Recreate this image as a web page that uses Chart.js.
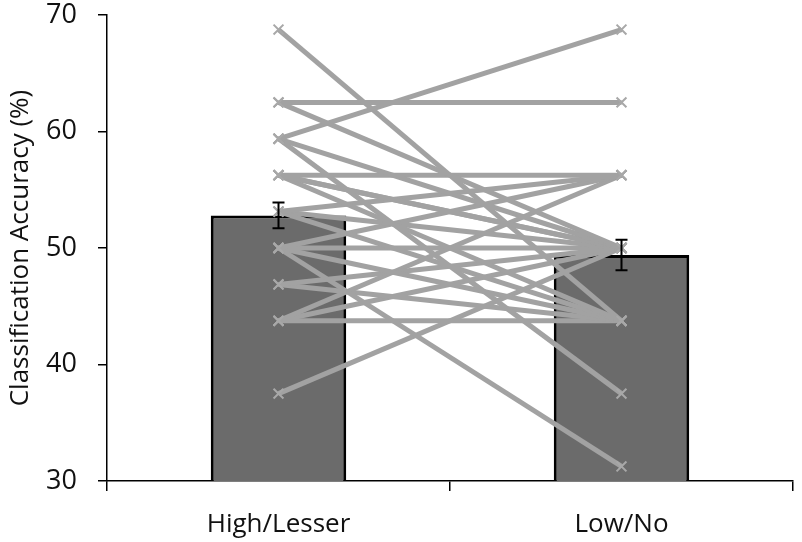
<!DOCTYPE html>
<html>
<head>
<meta charset="utf-8">
<script src="https://cdn.jsdelivr.net/npm/chart.js@4"></script>
<style>
  body { margin: 0; background: #fff; }
  #wrap { width: 802px; height: 542px; }
</style>
</head>
<body>
<div id="wrap"><canvas id="myChart" width="802" height="542"></canvas></div>
<script>
const categories = ['High/Lesser', 'Low/No'];
const barMeans = [52.8, 49.4];
const barErrors = [1.1, 1.3];
// one entry per participant: accuracy in each condition
const highValues = [68.75, 62.5, 62.5, 59.375, 59.375, 59.375, 56.25, 56.25, 56.25, 56.25, 53.125, 53.125, 53.125, 50, 50, 50, 50, 46.875, 46.875, 43.75, 43.75, 43.75, 37.5];
const lowValues  = [43.75, 62.5, 50, 68.75, 37.5, 50, 56.25, 50, 43.75, 50, 56.25, 43.75, 50, 31.25, 56.25, 50, 43.75, 50, 43.75, 43.75, 56.25, 50, 50];
const yTicks = [30, 40, 50, 60, 70];

const lineColor = '#a2a2a2';
const fontFamily = '"Open Sans", "Noto Sans", sans-serif';

const lineSets = highValues.map((v, i) => ({
  type: 'line',
  data: [v, lowValues[i]],
  borderColor: lineColor,
  borderWidth: 5,
  pointStyle: 'crossRot',
  pointRadius: 7,
  pointBorderColor: '#a8a8a8',
  pointBorderWidth: 2,
  fill: false,
  order: 1,
}));

const errorBars = {
  id: 'errorBars',
  afterDatasetsDraw(chart) {
    const { ctx, scales } = chart;
    ctx.save();
    ctx.strokeStyle = '#000';
    ctx.lineWidth = 2;
    barMeans.forEach((m, i) => {
      const x = scales.x.getPixelForValue(i);
      const top = scales.y.getPixelForValue(m + barErrors[i]);
      const bot = scales.y.getPixelForValue(m - barErrors[i]);
      ctx.beginPath();
      ctx.moveTo(x, top); ctx.lineTo(x, bot);
      ctx.moveTo(x - 6, top); ctx.lineTo(x + 6, top);
      ctx.moveTo(x - 6, bot); ctx.lineTo(x + 6, bot);
      ctx.stroke();
    });
    ctx.restore();
  }
};

new Chart(document.getElementById('myChart'), {
  type: 'bar',
  data: {
    labels: categories,
    datasets: [
      {
        type: 'bar',
        data: barMeans,
        backgroundColor: '#6b6b6b',
        borderColor: '#000',
        borderWidth: 3,
        categoryPercentage: 1,
        barPercentage: 0.395,
        order: 2,
      },
      ...lineSets,
    ],
  },
  options: {
    responsive: false,
    animation: false,
    layout: { padding: { top: 15, right: 2, left: 1, bottom: 0 } },
    plugins: { legend: { display: false }, tooltip: { enabled: false } },
    scales: {
      x: {
        offset: true,
        afterFit: (axis) => { axis.height = 61; },
        border: { color: '#000', width: 1.5 },
        grid: { display: true, drawOnChartArea: false, drawTicks: true, tickLength: 10, color: '#000', lineWidth: 1.5, offset: true },
        ticks: { color: '#111', font: { family: fontFamily, size: 26 }, padding: 18 },
      },
      y: {
        min: 30,
        max: 70,
        afterBuildTicks: (axis) => { axis.ticks = yTicks.map(v => ({ value: v })); },
        afterFit: (axis) => { axis.width = 106; axis.paddingTop = 0; axis.paddingBottom = 0; },
        border: { color: '#000', width: 1.5 },
        grid: { display: true, drawOnChartArea: false, drawTicks: true, tickLength: 9, color: '#000', lineWidth: 1.5 },
        ticks: { color: '#111', font: { family: fontFamily, size: 27 }, padding: 21 },
        title: { display: true, text: 'Classification Accuracy (%)', color: '#111', font: { family: fontFamily, size: 26 }, padding: { top: 4, bottom: 0 } },
      },
    },
  },
  plugins: [errorBars],
});
</script>
</body>
</html>
